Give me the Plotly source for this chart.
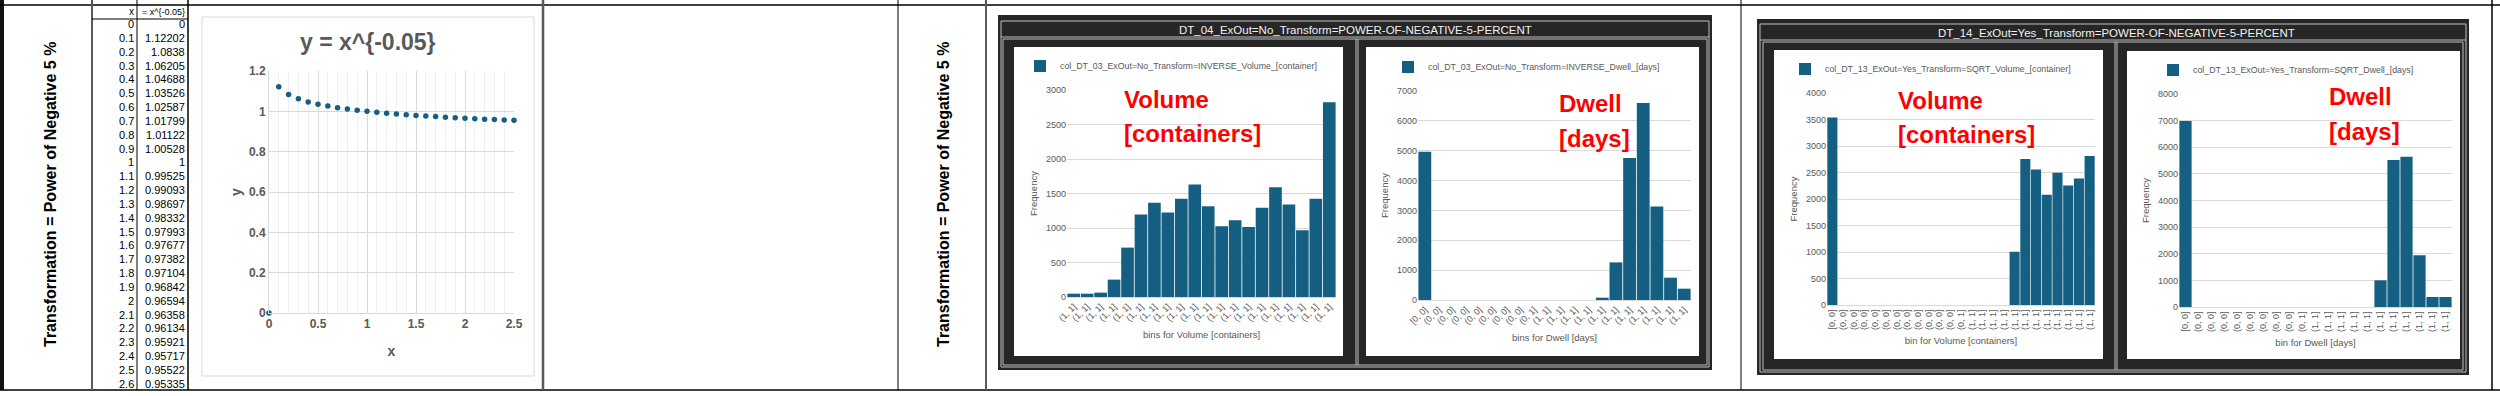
import plotly.graph_objects as go

W, H = 2500, 396

# ---------------- data ----------------
table_x = [0, 0.1, 0.2, 0.3, 0.4, 0.5, 0.6, 0.7, 0.8, 0.9, 1, 1.1, 1.2, 1.3,
           1.4, 1.5, 1.6, 1.7, 1.8, 1.9, 2, 2.1, 2.2, 2.3, 2.4, 2.5, 2.6]
table_y = [0, 1.12202, 1.0838, 1.06205, 1.04688, 1.03526, 1.02587, 1.01799,
           1.01122, 1.00528, 1, 0.99525, 0.99093, 0.98697, 0.98332, 0.97993,
           0.97677, 0.97382, 0.97104, 0.96842, 0.96594, 0.96358, 0.96134,
           0.95921, 0.95717, 0.95522, 0.95335]

vol1_labels = ["(1, 1]"] * 20
vol1_counts = [48, 48, 63, 252, 716, 1195, 1365, 1224, 1423, 1631,
               1316, 1026, 1113, 1016, 1292, 1592, 1340, 968, 1423, 2821]

dwell1_labels = ["[0, 0]"] + ["(0, 0]"] * 7 + ["(0, 1]"] + ["(1, 1]"] * 11
dwell1_counts = [4962, 0, 0, 0, 0, 0, 0, 0, 0, 0, 0, 0, 0,
                 78, 1260, 4760, 6600, 3133, 747, 379]

vol2_labels = ["[0, 0]"] + ["(0, 0]"] * 11 + ["(0, 1]"] + ["(1, 1]"] * 12
vol2_counts = [3536, 0, 0, 0, 0, 0, 0, 0, 0, 0, 0, 0, 0, 0, 0, 0, 0,
               1005, 2757, 2556, 2079, 2493, 2255, 2386, 2813]

dwell2_labels = ["[0, 0]"] + ["(0, 0]"] * 8 + ["(0, 1]"] + ["(1, 1]"] * 11
dwell2_counts = [6985, 0, 0, 0, 0, 0, 0, 0, 0, 0, 0, 0, 0, 0, 0,
                 1003, 5517, 5643, 1944, 376, 376]

# ---------------- styling ----------------
BAR = "#156082"
GRAY = "#595959"
GRID = "#d9d9d9"
FONT = "Liberation Sans, Arial, sans-serif"


def px(x):
    return x / W


def py(y):
    return 1 - y / H


shapes = []
annotations = []


def line(x0, y0, x1, y1, color="#000000", width=1):
    shapes.append(dict(type="line", xref="paper", yref="paper",
                       x0=px(x0), y0=py(y0), x1=px(x1), y1=py(y1),
                       line=dict(color=color, width=width), layer="below"))


def rect(x0, y0, x1, y1, fill=None, color=None, width=0):
    shapes.append(dict(type="rect", xref="paper", yref="paper",
                       x0=px(x0), y0=py(y0), x1=px(x1), y1=py(y1),
                       fillcolor=fill if fill else "rgba(0,0,0,0)",
                       line=dict(color=color if color else "rgba(0,0,0,0)", width=width),
                       layer="below"))


def ann(text, x, y, size=10, color="#000000", xanchor="center", yanchor="middle",
        bold=False, angle=0):
    annotations.append(dict(text=text, xref="paper", yref="paper", x=px(x), y=py(y),
                            xanchor=xanchor, yanchor=yanchor, showarrow=False,
                            textangle=angle,
                            font=dict(family=FONT, size=size, color=color,
                                      weight="bold" if bold else "normal")))


# ---------------- spreadsheet grid ----------------
rect(0, 0, 4, 390, fill="#111111")
line(0, 5, 2500, 5, "#000000", 1.5)
line(0, 390, 2500, 390, "#000000", 1.5)
for xv, col, wd in [(92, "#595959", 2), (137, "#000000", 1), (188, "#000000", 1.5),
                    (543, "#595959", 2.5), (898, "#000000", 1), (986, "#595959", 2),
                    (1741, "#000000", 1), (2492, "#000000", 1.5)]:
    line(xv, 0, xv, 390, col, wd)
line(92, 19, 188, 19, "#000000", 1)

ann("Transformation = Power of Negative 5 %", 50, 195, size=16, bold=True, angle=-90)
ann("Transformation = Power of Negative 5 %", 943, 195, size=16, bold=True, angle=-90)

# table
ann("x", 136, 12, size=10, xanchor="right")
ann("= x^{-0.05}", 187, 12, size=9, xanchor="right")
for i, (xv, yv) in enumerate(zip(table_x, table_y)):
    yy = 24 + 13.84 * i
    ann(f"{xv:g}", 136, yy, size=11, xanchor="right")
    ann(f"{yv:g}", 187, yy, size=11, xanchor="right")

# left chart box
rect(202, 17, 534, 376, fill="#ffffff", color=GRID, width=1)
ann("y = x^{-0.05}", 368, 42, size=23, color=GRAY, bold=True)

# ---------------- dark frames ----------------
LIGHT = "#bfbfbf"
# frame 1
rect(998, 15, 1712, 370, fill="#262626")
rect(1001, 21, 1709, 367, color=LIGHT, width=1)
line(1001, 37, 1709, 37, LIGHT, 1)
rect(1003, 39, 1707, 365, color=LIGHT, width=1)
line(1356, 39, 1356, 365, LIGHT, 1)
line(1358, 39, 1358, 365, LIGHT, 1)
rect(1014, 47, 1343, 356, fill="#ffffff")
rect(1366, 47, 1699, 356, fill="#ffffff")
ann("DT_04_ExOut=No_Transform=POWER-OF-NEGATIVE-5-PERCENT", 1355, 30, size=11.5, color="#f2f2f2")

# frame 2
rect(1757, 19, 2469, 375, fill="#262626")
rect(1760, 24, 2466, 372, color=LIGHT, width=1)
line(1760, 40, 2466, 40, LIGHT, 1)
rect(1763, 42, 2463, 370, color=LIGHT, width=1)
line(2115, 42, 2115, 370, LIGHT, 1)
line(2117, 42, 2117, 370, LIGHT, 1)
rect(1774, 50, 2103, 359, fill="#ffffff")
rect(2127, 51, 2460, 359, fill="#ffffff")
ann("DT_14_ExOut=Yes_Transform=POWER-OF-NEGATIVE-5-PERCENT", 2116, 33, size=11.5, color="#f2f2f2")

# red labels
for txt1, txt2, x0, y1, y2 in [("Volume", "[containers]", 1122, 99, 133),
                               ("Dwell", "[days]", 1557, 103, 138),
                               ("Volume", "[containers]", 1896, 100, 135),
                               ("Dwell", "[days]", 2327, 97, 132)]:
    ann(txt1, x0, y1, size=24, color="#ff0000", xanchor="left", bold=True)
    ann(txt2, x0, y2, size=24, color="#ff0000", xanchor="left", bold=True)

# ---------------- figure ----------------
fig = go.Figure()

n_plot = 26  # chart shows x from 0 to 2.5
fig.add_trace(go.Scatter(x=table_x[:n_plot], y=table_y[:n_plot], mode="markers",
                         marker=dict(color=BAR, size=5.5), cliponaxis=False,
                         showlegend=False, xaxis="x", yaxis="y"))

panels = [
    ("x2", "y2", "legend", vol1_labels, vol1_counts,
     "col_DT_03_ExOut=No_Transform=INVERSE_Volume_[container]", "bins for Volume [containers]",
     (1067, 1336, 90, 297), 3000, 500, -45, (1060, 66)),
    ("x3", "y3", "legend2", dwell1_labels, dwell1_counts,
     "col_DT_03_ExOut=No_Transform=INVERSE_Dwell_[days]", "bins for Dwell [days]",
     (1418, 1691, 91, 300), 7000, 1000, -45, (1428, 67)),
    ("x4", "y4", "legend3", vol2_labels, vol2_counts,
     "col_DT_13_ExOut=Yes_Transform=SQRT_Volume_[container]", "bin for Volume [containers]",
     (1827, 2095, 93, 305), 4000, 500, -90, (1825, 69)),
    ("x5", "y5", "legend4", dwell2_labels, dwell2_counts,
     "col_DT_13_ExOut=Yes_Transform=SQRT_Dwell_[days]", "bin for Dwell [days]",
     (2179, 2452, 94, 307), 8000, 1000, -90, (2193, 70)),
]

layout = dict(
    template="none",
    width=W, height=H, autosize=False,
    margin=dict(l=0, r=0, t=0, b=0, pad=0, autoexpand=False),
    paper_bgcolor="#ffffff", plot_bgcolor="rgba(0,0,0,0)",
    bargap=0.06,
    font=dict(family=FONT, color=GRAY),
    xaxis=dict(domain=[px(269), px(514)], range=[0, 2.5], dtick=0.5, tick0=0,
               showgrid=True, gridcolor=GRID, gridwidth=1,
               minor=dict(dtick=0.1, showgrid=True, gridcolor="#efefef"),
               showline=True, linecolor=GRID, zeroline=False, ticks="",
               automargin=False,
               tickfont=dict(size=12, color=GRAY, family=FONT, weight="bold"),
               title=dict(text="x", font=dict(size=14, color=GRAY, family=FONT, weight="bold"),
                          standoff=15),
               anchor="y", fixedrange=True),
    yaxis=dict(domain=[py(313), py(71)], range=[0, 1.2], dtick=0.2, tick0=0,
               showgrid=True, gridcolor=GRID, showline=True, linecolor=GRID,
               zeroline=False, ticks="", automargin=False,
               tickfont=dict(size=12, color=GRAY, family=FONT, weight="bold"),
               title=dict(text="y", font=dict(size=14, color=GRAY, family=FONT, weight="bold"),
                          standoff=4),
               anchor="x", fixedrange=True),
)

for xa, ya, lg, labels, counts, lgname, xtitle, (x0, x1, y0, y1), ymax, dt, tang, (lx, ly) in panels:
    pos = list(range(len(labels)))
    fig.add_trace(go.Bar(x=pos, y=counts, name=lgname, marker=dict(color=BAR, line=dict(width=0)),
                         xaxis=xa, yaxis=ya, legend=lg, showlegend=True))
    xkey = "xaxis" + xa[1:]
    ykey = "yaxis" + ya[1:]
    layout[xkey] = dict(domain=[px(x0), px(x1)], range=[-0.5, len(labels) - 0.5],
                        tickmode="array", tickvals=pos, ticktext=labels, tickangle=tang,
                        tickfont=dict(size=9, color=GRAY, family=FONT),
                        showgrid=False, showline=True, linecolor=GRID, zeroline=False,
                        ticks="", anchor=ya, fixedrange=True, automargin=False,
                        title=dict(text=xtitle, font=dict(size=9.5, color=GRAY, family=FONT),
                                   standoff=8))
    layout[ykey] = dict(domain=[py(y1), py(y0)], range=[0, ymax], dtick=dt, tick0=0,
                        showgrid=True, gridcolor=GRID, showline=False, zeroline=False,
                        ticks="", anchor=xa, fixedrange=True, automargin=False,
                        tickfont=dict(size=9, color=GRAY, family=FONT),
                        title=dict(text="Frequency", font=dict(size=9.5, color=GRAY, family=FONT),
                                   standoff=6))
    layout[lg] = dict(x=px(lx - 40), y=py(ly), xanchor="left", yanchor="middle",
                      bgcolor="rgba(0,0,0,0)", borderwidth=0,
                      font=dict(size=8.8, color=GRAY, family=FONT),
                      itemwidth=30, tracegroupgap=0)

layout["shapes"] = shapes
layout["annotations"] = annotations
fig.update_layout(**layout)

fig.write_html("out.html", config={"displayModeBar": False, "staticPlot": True},
               post_script="document.body.style.margin='0';document.body.style.overflow='hidden';")
